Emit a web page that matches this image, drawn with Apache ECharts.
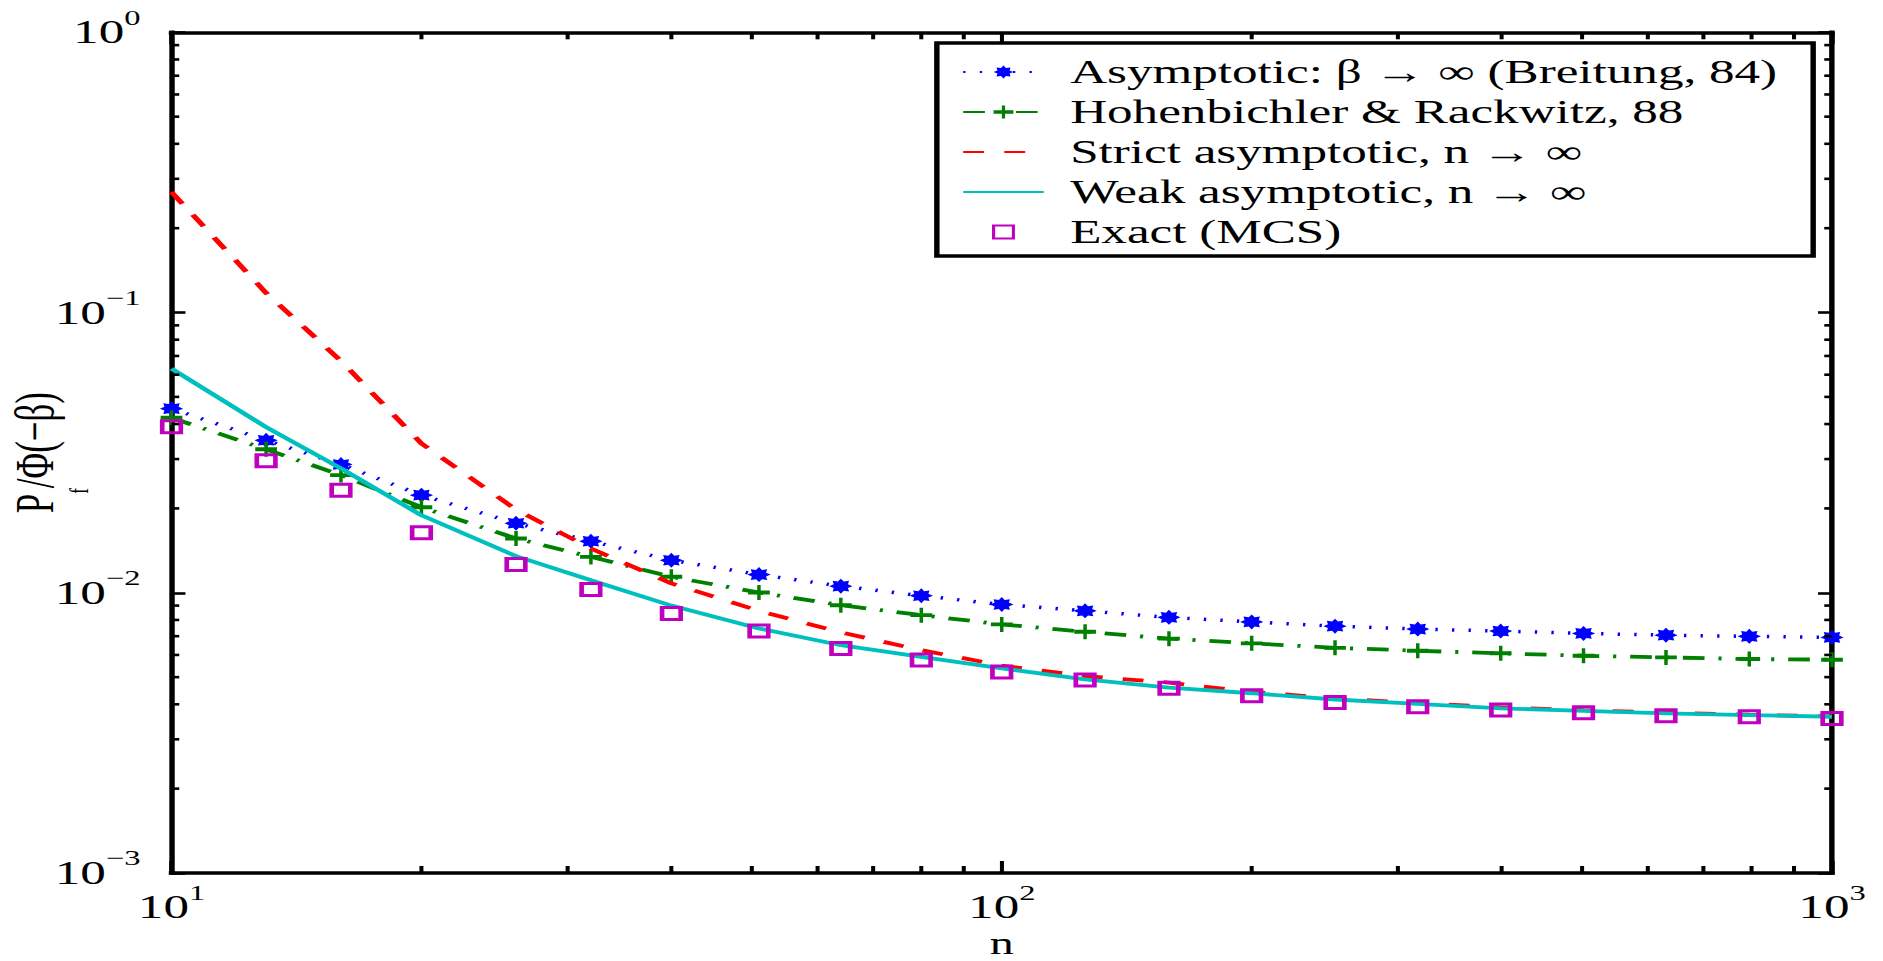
<!DOCTYPE html>
<html><head><meta charset="utf-8">
<script src="https://cdn.jsdelivr.net/npm/echarts@6/dist/echarts.min.js"></script>
<style>
html,body{margin:0;padding:0;background:#fff;overflow:hidden;width:1883px;height:961px}
#chart{width:1215px;height:961px;transform:scaleX(1.549794);transform-origin:0 0}
</style></head><body><div id="chart"></div>
<script>
// ---- data ----
const nValues = [10, 13, 16, 20, 26, 32, 40, 51, 64, 80, 100, 126, 159, 200, 252, 317, 399, 502, 631, 795, 1000];
const breitung = [0.0454, 0.0350, 0.0287, 0.0223, 0.0177, 0.01527, 0.01306, 0.01161, 0.01056, 0.00976, 0.00908, 0.00862, 0.00817, 0.00787, 0.00760, 0.00742, 0.00730, 0.00716, 0.00706, 0.00699, 0.00693];
const hohenbichler = [0.0421, 0.0325, 0.0263, 0.0202, 0.01562, 0.01343, 0.01140, 0.01002, 0.00903, 0.00832, 0.00771, 0.00726, 0.00686, 0.00660, 0.00636, 0.00621, 0.00608, 0.00596, 0.00588, 0.00580, 0.00577];
const strictAsym = [0.269, 0.1175, 0.0672, 0.0341, 0.0198, 0.01439, 0.01080, 0.00862, 0.00722, 0.00624, 0.00550, 0.00504, 0.00478, 0.00443, 0.00420, 0.00404, 0.00390, 0.00381, 0.00373, 0.00367, 0.00362];
const weakAsym = [0.0631, 0.0390, 0.0278, 0.0189, 0.01351, 0.01109, 0.00900, 0.00746, 0.00650, 0.00591, 0.00537, 0.00491, 0.00459, 0.00438, 0.00416, 0.00401, 0.00387, 0.00379, 0.00371, 0.00366, 0.00361];
const exactMCS = [0.0391, 0.0296, 0.0232, 0.01636, 0.01262, 0.01028, 0.00844, 0.00731, 0.00633, 0.00575, 0.00522, 0.00488, 0.00456, 0.00429, 0.00406, 0.00392, 0.00382, 0.00373, 0.00364, 0.00361, 0.00356];
const seriesNames = ['Asymptotic: β → ∞ (Breitung, 84)', 'Hohenbichler & Rackwitz, 88', 'Strict asymptotic, n → ∞', 'Weak asymptotic, n → ∞', 'Exact (MCS)'];
const xRange = [10, 1000];
const yRange = [0.001, 1];
const xMinorTicks = [20, 30, 40, 50, 60, 70, 80, 90, 200, 300, 400, 500, 600, 700, 800, 900];
const yMinorTicks = [0.002, 0.003, 0.004, 0.005, 0.006, 0.007, 0.008, 0.009, 0.02, 0.03, 0.04, 0.05, 0.06, 0.07, 0.08, 0.09, 0.2, 0.3, 0.4, 0.5, 0.6, 0.7, 0.8, 0.9];
const xAxisName = 'n';

// ---- styling ----
const FONT = "'Liberation Serif','Times New Roman',serif";
const pair = arr => arr.map((v, i) => [nValues[i], v]);
function starPath() {
  let d = '';
  for (let i = 0; i < 16; i++) {
    const a = i * Math.PI / 8 - Math.PI / 2;
    const r = i % 2 === 0 ? 1 : 0.66;
    d += (i ? 'L' : 'M') + (1 + r * Math.cos(a)).toFixed(3) + ',' + (1 + r * Math.sin(a)).toFixed(3);
  }
  return 'path://' + d + 'Z';
}
const plusPath = 'path://M0.42,0L0.58,0L0.58,0.37L1,0.37L1,0.63L0.58,0.63L0.58,1L0.42,1L0.42,0.63L0,0.63L0,0.37L0.42,0.37Z';
function expLabel(v) {
  const e = Math.round(Math.log10(v));
  return '{b|10}{s|' + (e < 0 ? '\u2212' + (-e) : e) + '}';
}
const richTickY = {
  b: {fontFamily: FONT, fontSize: 33, lineHeight: 50, color: '#000'},
  s: {fontFamily: FONT, fontSize: 21, lineHeight: 21, verticalAlign: 'top', color: '#000'}
};
const richTickX = {
  b: {fontFamily: FONT, fontSize: 33, lineHeight: 33, verticalAlign: 'bottom', color: '#000'},
  s: {fontFamily: FONT, fontSize: 21, lineHeight: 40, verticalAlign: 'top', color: '#000'}
};
const axisLine = {show: true, onZero: false, lineStyle: {color: '#000', width: 3.5, cap: 'square'}};
function xAxis(pos, labels) {
  return {type: 'log', logBase: 10, min: xRange[0], max: xRange[1], position: pos,
    axisLine: axisLine, splitLine: {show: false},
    axisTick: {show: true, inside: true, length: 12, lineStyle: {color: '#000', width: 2.6}},
    axisLabel: {show: labels, margin: 10, formatter: expLabel, rich: richTickX},
    name: labels ? xAxisName : '', nameLocation: 'middle', nameGap: 58, nameMoveOverlap: false,
    nameTextStyle: {fontFamily: FONT, fontSize: 31, lineHeight: 26, color: '#000'}};
}
function yAxis(pos, labels) {
  return {type: 'log', logBase: 10, min: yRange[0], max: yRange[1], position: pos,
    axisLine: axisLine, splitLine: {show: false},
    axisTick: {show: true, inside: true, length: 9, lineStyle: {color: '#000', width: 2.6}},
    axisLabel: {show: labels, margin: 20, formatter: expLabel, rich: richTickY},
    name: labels ? '{m|P}{f|f}{m|/Φ(\u2212β)}' : '', nameLocation: 'middle', nameGap: 51, nameRotate: 90,
    nameMoveOverlap: false,
    nameTextStyle: {rich: {
      m: {fontFamily: FONT, fontSize: 35, lineHeight: 55, verticalAlign: 'top', color: '#000'},
      f: {fontFamily: FONT, fontSize: 17, lineHeight: 55, verticalAlign: 'bottom', color: '#000'}
    }}};
}
function minorTickSeries(values, isX) {
  return {
    type: 'custom', silent: true, z: 10, clip: false, xAxisIndex: 0, yAxisIndex: 0,
    data: values.map(v => isX ? [v, yRange[0]] : [xRange[0], v]),
    renderItem: function (params, api) {
      const st = {stroke: '#000', lineWidth: 2.6};
      if (isX) {
        const v = api.value(0);
        const a = api.coord([v, yRange[0]]), b = api.coord([v, yRange[1]]);
        return {type: 'group', children: [
          {type: 'line', shape: {x1: a[0], y1: a[1], x2: a[0], y2: a[1] - 7}, style: st},
          {type: 'line', shape: {x1: b[0], y1: b[1], x2: b[0], y2: b[1] + 7}, style: st}]};
      }
      const v = api.value(1);
      const a = api.coord([xRange[0], v]), b = api.coord([xRange[1], v]);
      return {type: 'group', children: [
        {type: 'line', shape: {x1: a[0], y1: a[1], x2: a[0] + 5, y2: a[1]}, style: st},
        {type: 'line', shape: {x1: b[0], y1: b[1], x2: b[0] - 5, y2: b[1]}, style: st}]};
    }
  };
}

const chart = echarts.init(document.getElementById('chart'), null, {renderer: 'svg'});
chart.setOption({
  backgroundColor: '#fff',
  animation: false,
  grid: {left: 110.66, right: 32.9, top: 32.3, bottom: 88, containLabel: false, outerBoundsMode: 'none'},
  xAxis: [xAxis('bottom', true), xAxis('top', false)],
  yAxis: [yAxis('left', true), yAxis('right', false)],
  legend: {
    data: [
      {name: seriesNames[0]},
      {name: seriesNames[1]},
      {name: seriesNames[2], itemStyle: {opacity: 0}},
      {name: seriesNames[3], itemStyle: {opacity: 0}},
      {name: seriesNames[4]}
    ],
    orient: 'vertical', left: 604.5, top: 43,
    padding: [9, 23, 4, 16], itemGap: 0, itemWidth: 52, itemHeight: 16,
    backgroundColor: '#fff', borderColor: '#000', borderWidth: 3.5, borderRadius: 0,
    selectedMode: false,
    textStyle: {fontFamily: FONT, fontSize: 33, color: '#000', lineHeight: 40, padding: [0, 0, 0, 12]}
  },
  series: [
    {name: seriesNames[0], type: 'line', data: pair(breitung), symbol: starPath(), symbolSize: 15,
      itemStyle: {color: '#0000ff'}, lineStyle: {color: '#0000ff', width: 3.5, type: [1.5, 9.2], cap: 'butt'}, z: 2},
    {name: seriesNames[1], type: 'line', data: pair(hohenbichler), symbol: plusPath, symbolSize: [14, 15],
      itemStyle: {color: '#008000'}, lineStyle: {color: '#008000', width: 3.8, type: [14, 9, 2, 9], cap: 'butt'}, z: 3},
    {name: seriesNames[2], type: 'line', data: pair(strictAsym), symbol: 'none',
      itemStyle: {color: '#ff0000'}, lineStyle: {color: '#ff0000', width: 3.8, type: [13.5, 13], cap: 'butt'}, z: 4},
    {name: seriesNames[3], type: 'line', data: pair(weakAsym), symbol: 'none',
      itemStyle: {color: '#00bfbf'}, lineStyle: {color: '#00bfbf', width: 3.8, type: 'solid'}, z: 5},
    {name: seriesNames[4], type: 'line', data: pair(exactMCS), symbol: 'rect', symbolSize: 12,
      itemStyle: {color: 'rgba(255,255,255,0)', borderColor: '#bf00bf', borderWidth: 3},
      lineStyle: {width: 0, opacity: 0}, z: 6},
    minorTickSeries(xMinorTicks, true),
    minorTickSeries(yMinorTicks, false)
  ]
});
</script></body></html>
